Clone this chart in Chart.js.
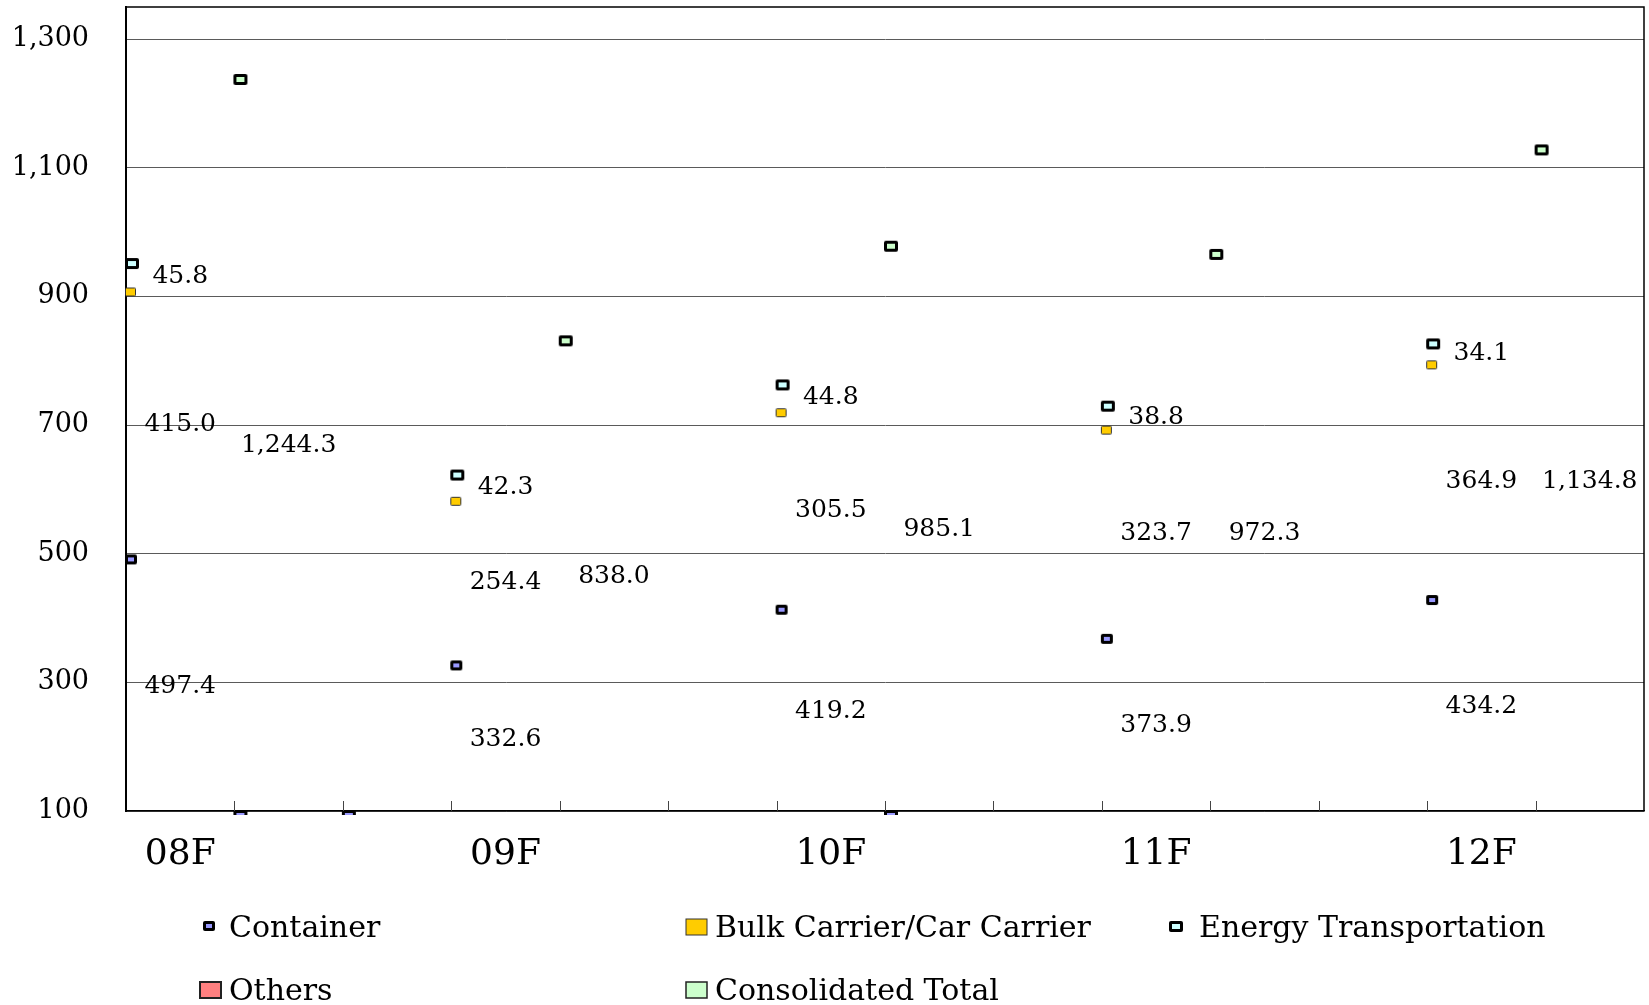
<!DOCTYPE html>
<html>
<head>
<meta charset="utf-8">
<script src="https://cdn.jsdelivr.net/npm/chart.js@4.4.1/dist/chart.umd.min.js"></script>
<style>
  html, body { margin: 0; padding: 0; background: #fff; }
  #wrap { width: 1649px; height: 1005px; position: relative; }
</style>
</head>
<body>
<div id="wrap"><canvas id="fleetChart"></canvas></div>
<script>
// values (one slot group per category)
const categories = ['08F', '09F', '10F', '11F', '12F'];
const container = [497.4, 332.6, 419.2, 373.9, 434.2];
const bulkCar = [415.0, 254.4, 305.5, 323.7, 364.9];
const energy = [45.8, 42.3, 44.8, 38.8, 34.1];
const consolidated = [1244.3, 838.0, 985.1, 972.3, 1134.8];
// stray "Others" marks sitting on the bottom of the axis
const othersSlot = [1, 2, 7];
const othersValue = [100, 100, 100];
const yTicks = [100, 300, 500, 700, 900, 1100, 1300];

const seriesNames = ['Container', 'Bulk Carrier/Car Carrier', 'Energy Transportation', 'Others', 'Consolidated Total'];
const SLOTS = 3;
const FONT = '"DejaVu Serif", "Liberation Serif", serif';

// marker whose top-left corner sits on the data point
function markerImage(w, h, border, fill, bw) {
    const c = document.createElement('canvas');
    c.width = 2 * w + 4;
    c.height = 2 * h + 4;
    const g = c.getContext('2d');
    const ox = c.width / 2 - 1, oy = c.height / 2 - 1;
    g.fillStyle = border;
    g.beginPath();
    if (g.roundRect) g.roundRect(ox, oy, w, h, 2); else g.rect(ox, oy, w, h);
    g.fill();
    g.fillStyle = fill;
    g.fillRect(ox + bw, oy + bw, w - 2 * bw, h - 2 * bw);
    return c;
}

const mContainer = markerImage(12, 10, '#000', '#9999FF', 3);
const mBulk = markerImage(11, 9, '#333', '#FFCC00', 1);
const mEnergy = markerImage(14, 11, '#000', '#CCFFFF', 3);
const mTotal = markerImage(14, 11, '#000', '#CCFFCC', 3);
const mOthers = markerImage(14, 11, '#000', '#9999FF', 3);

const pContainer = container.map((v, i) => ({ x: i * SLOTS, y: v }));
const pBulk = bulkCar.map((v, i) => ({ x: i * SLOTS, y: container[i] + v }));
const pEnergy = energy.map((v, i) => ({ x: i * SLOTS, y: container[i] + bulkCar[i] + v }));
const pTotal = consolidated.map((v, i) => ({ x: i * SLOTS + 1, y: v }));
const pOthers = othersSlot.map((s, i) => ({ x: s, y: othersValue[i] }));

function fmt(v) {
    return v.toLocaleString('en-US', { minimumFractionDigits: 1, maximumFractionDigits: 1 });
}

const valueLabels = {
    id: 'valueLabels',
    afterDatasetsDraw(chart) {
        const ctx = chart.ctx;
        const xs = chart.scales.x, ys = chart.scales.y;
        const base = ys.min;
        const dy = 3;
        ctx.save();
        ctx.font = '25px ' + FONT;
        ctx.fillStyle = '#000';
        ctx.textAlign = 'center';
        ctx.textBaseline = 'middle';
        categories.forEach((c, i) => {
            const x0 = xs.getPixelForValue(i * SLOTS + 0.5);
            const x1 = xs.getPixelForValue(i * SLOTS + 1.5);
            const c0 = container[i], b0 = bulkCar[i], e0 = energy[i];
            ctx.fillText(fmt(c0), x0, ys.getPixelForValue((base + c0) / 2) + dy);
            ctx.fillText(fmt(b0), x0, ys.getPixelForValue(c0 + b0 / 2) + dy);
            ctx.fillText(fmt(e0), x0, ys.getPixelForValue(c0 + b0 + e0 / 2) + dy);
            ctx.fillText(fmt(consolidated[i]), x1, ys.getPixelForValue((base + consolidated[i]) / 2) + dy);
        });
        ctx.restore();
    }
};

const frame = {
    id: 'frame',
    afterDraw(chart) {
        const ctx = chart.ctx;
        const a = chart.chartArea;
        const xs = chart.scales.x;
        ctx.save();
        ctx.strokeStyle = '#000';
        ctx.lineWidth = 1.5;
        ctx.beginPath();
        ctx.moveTo(a.left, a.top);
        ctx.lineTo(a.right, a.top);
        ctx.lineTo(a.right, a.bottom);
        ctx.stroke();
        // small inner tick marks between slots
        ctx.strokeStyle = '#444';
        ctx.lineWidth = 1;
        ctx.beginPath();
        for (let s = 1; s < categories.length * SLOTS - 1; s++) {
            const x = Math.round(xs.getPixelForValue(s)) + 0.5;
            ctx.moveTo(x, a.bottom);
            ctx.lineTo(x, a.bottom - 10);
        }
        ctx.stroke();

        // legend, two rows in three columns
        const items = [
            { col: 0, row: 0, img: mContainer },
            { col: 1, row: 0, box: ['#FFCC00', '#333', 1] },
            { col: 2, row: 0, img: mEnergy },
            { col: 0, row: 1, box: ['#FF8080', '#222', 2] },
            { col: 1, row: 1, box: ['#CCFFCC', '#222', 1.5] }
        ];
        const colX = [210, 696, 1176];
        const textX = [229, 715, 1199];
        const rowY = [929, 992];
        ctx.font = '30px ' + FONT;
        ctx.fillStyle = '#000';
        ctx.textAlign = 'left';
        ctx.textBaseline = 'middle';
        items.forEach((it, k) => {
            const cx = colX[it.col], cy = rowY[it.row] - 2;
            if (it.img) {
                ctx.drawImage(it.img, cx - it.img.width / 2 - 6, cy - it.img.height / 2 - 5);
            } else {
                ctx.fillStyle = it.box[0];
                ctx.fillRect(cx - 10, cy - 8, 21, 16);
                ctx.strokeStyle = it.box[1];
                ctx.lineWidth = it.box[2];
                ctx.strokeRect(cx - 10, cy - 8, 21, 16);
            }
            ctx.fillStyle = '#000';
            ctx.fillText(seriesNames[k], textX[it.col], rowY[it.row]);
        });
        ctx.restore();
    }
};

const ctx = document.getElementById('fleetChart').getContext('2d');
new Chart(ctx, {
    type: 'scatter',
    data: {
        datasets: [
            { label: seriesNames[0], data: pContainer, pointStyle: mContainer, clip: false },
            { label: seriesNames[1], data: pBulk, pointStyle: mBulk, clip: false },
            { label: seriesNames[2], data: pEnergy, pointStyle: mEnergy, clip: false },
            { label: seriesNames[3], data: pOthers, pointStyle: mOthers, clip: { left: 20, top: 20, right: 20, bottom: 4 } },
            { label: seriesNames[4], data: pTotal, pointStyle: mTotal, clip: false }
        ]
    },
    options: {
        responsive: true,
        maintainAspectRatio: false,
        animation: false,
        events: [],
        layout: { padding: { top: 7, right: 5, left: 0, bottom: 0 } },
        plugins: {
            legend: { display: false },
            tooltip: { enabled: false }
        },
        scales: {
            x: {
                type: 'linear',
                min: 0,
                max: categories.length * SLOTS - 1,
                grid: { display: false, drawTicks: false },
                border: { display: true, color: '#000', width: 1.5 },
                afterBuildTicks: function(scale) {
                    scale.ticks = categories.map((c, i) => ({ value: i * SLOTS + 0.5 }));
                },
                afterFit: function(scale) {
                    scale.height = 194;
                    scale.paddingLeft = 0;
                    scale.paddingRight = 0;
                },
                ticks: {
                    autoSkip: false,
                    maxRotation: 0,
                    padding: 22,
                    color: '#000',
                    font: { family: FONT, size: 36 },
                    callback: function(value) {
                        return categories[Math.round((value - 0.5) / SLOTS)];
                    }
                }
            },
            y: {
                min: 100,
                max: 1350,
                grid: { color: '#5a5a5a', lineWidth: 1, drawTicks: false },
                border: { display: true, color: '#000', width: 2 },
                afterBuildTicks: function(scale) {
                    scale.ticks = yTicks.map(v => ({ value: v }));
                },
                afterFit: function(scale) {
                    scale.width = 126;
                    scale.paddingTop = 0;
                    scale.paddingBottom = 0;
                },
                ticks: {
                    padding: 37,
                    color: '#000',
                    font: { family: FONT, size: 27 },
                    callback: function(value) {
                        return value.toLocaleString('en-US');
                    }
                }
            }
        }
    },
    plugins: [valueLabels, frame]
});
</script>
</body>
</html>
